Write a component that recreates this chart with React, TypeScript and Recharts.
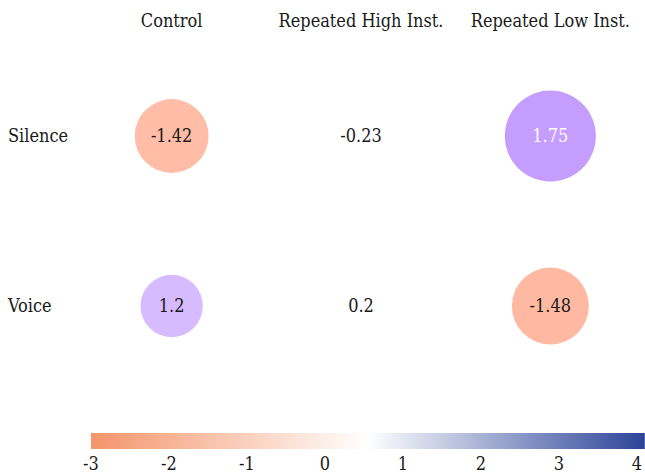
import { ReferenceArea, Scatter, ScatterChart, XAxis, YAxis } from "recharts";

const rows = ["Silence", "Voice"];
const columns = ["Control", "Repeated High Inst.", "Repeated Low Inst."];
const silenceValues = [-1.42, -0.23, 1.75];
const voiceValues = [1.2, 0.2, -1.48];
const colorbarTicks = [-3, -2, -1, 0, 1, 2, 3, 4];

const FONT = "'DejaVu Serif Condensed', serif";

type Cell = { xi: number; yi: number; value: number };

const cells: Cell[] = [silenceValues, voiceValues].flatMap((vals, yi) =>
    vals.map((value, xi) => ({ xi, yi, value }))
);

// invisible points so the colour bar axis has something to scale against
const barPoints = colorbarTicks.map((t) => ({ t, y: 0.5 }));

// white -> colour, by |value| / 3
function bubbleColor(v: number) {
    const end = v < 0 ? [255, 114, 66] : [153, 87, 255];
    const t = Math.min(Math.abs(v) / 3, 1);
    const c = end.map((e) => Math.round(255 + (e - 255) * t));
    return `rgb(${c[0]},${c[1]},${c[2]})`;
}

const Bubble = (props: any) => {
    const { cx, cy, payload } = props;
    const v: number = payload.value;
    const r = Math.abs(v) * 26;
    return (
        <g>
            {Math.abs(v) >= 0.5 && <circle cx={cx} cy={cy} r={r} fill={bubbleColor(v)} />}
            <text
                x={cx}
                y={cy}
                dy="0.35em"
                textAnchor="middle"
                fontSize={18}
                fontFamily={FONT}
                fill={v > 1.5 ? "#ffffff" : "#1a1a1a"}
            >
                {v}
            </text>
        </g>
    );
};

const ColumnTick = (props: any) => {
    const { x, payload } = props;
    return (
        <text x={x} y={27} textAnchor="middle" fontSize={18} fontFamily={FONT} fill="#1a1a1a">
            {columns[payload.value]}
        </text>
    );
};

const RowTick = (props: any) => {
    const { y, payload } = props;
    return (
        <text x={8} y={y} dy="0.35em" textAnchor="start" fontSize={18} fontFamily={FONT} fill="#1a1a1a">
            {rows[payload.value]}
        </text>
    );
};

export default function App() {
    return (
        <div style={{ position: "absolute", left: 0, top: 0, width: 645, height: 475, background: "#fff" }}>
            <div style={{ position: "absolute", left: 0, top: 0 }}>
                <ScatterChart width={645} height={420} margin={{ top: 0, right: 0, bottom: 29, left: 0 }}>
                    <XAxis
                        type="number"
                        dataKey="xi"
                        domain={[-0.5, 2.5]}
                        ticks={[0, 1, 2]}
                        orientation="top"
                        height={51}
                        axisLine={false}
                        tickLine={false}
                        tick={<ColumnTick />}
                    />
                    <YAxis
                        type="number"
                        dataKey="yi"
                        domain={[-0.5, 1.5]}
                        ticks={[0, 1]}
                        reversed
                        width={77}
                        axisLine={false}
                        tickLine={false}
                        tick={<RowTick />}
                    />
                    <Scatter data={cells} shape={<Bubble />} isAnimationActive={false} />
                </ScatterChart>
            </div>
            <div style={{ position: "absolute", left: 0, top: 420 }}>
                <ScatterChart width={645} height={55} margin={{ top: 13, right: 8, bottom: 0, left: 91 }}>
                    <defs>
                        <linearGradient id="cbar" x1="0" y1="0" x2="1" y2="0">
                            <stop offset="0%" stopColor="#f4956b" />
                            <stop offset="50%" stopColor="#ffffff" />
                            <stop offset="100%" stopColor="#2b4499" />
                        </linearGradient>
                    </defs>
                    <XAxis
                        type="number"
                        dataKey="t"
                        domain={[-3, 4]}
                        ticks={colorbarTicks}
                        height={26}
                        axisLine={false}
                        tickLine={false}
                        tickMargin={2}
                        tick={{ fontSize: 18, fontFamily: FONT, fill: "#1a1a1a" }}
                    />
                    <YAxis type="number" dataKey="y" hide domain={[0, 1]} />
                    <ReferenceArea x1={-3} x2={4.1} y1={0} y2={1} fill="url(#cbar)" fillOpacity={1} ifOverflow="visible" />
                    <Scatter data={barPoints} fill="none" shape={() => <g />} isAnimationActive={false} />
                </ScatterChart>
            </div>
        </div>
    );
}
